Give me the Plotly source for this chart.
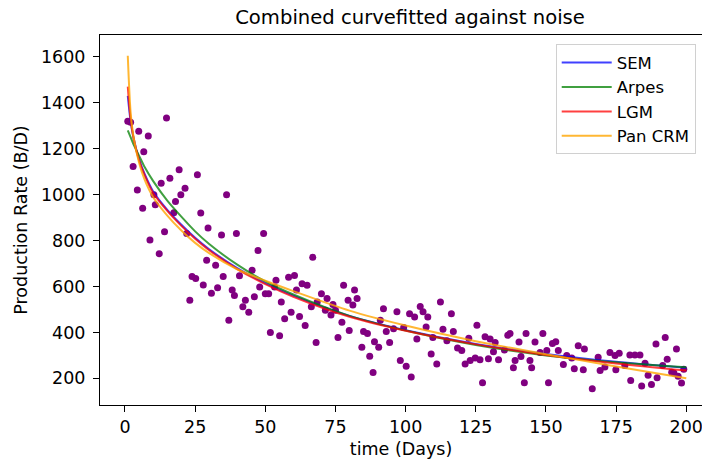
import plotly.graph_objects as go

# --- scatter data (noisy production) ---
days = [1.0, 2.0, 2.9, 4.4, 4.9, 6.3, 6.7, 8.3, 8.9, 10.3, 10.8, 12.2, 12.9, 14.1, 14.8, 16.0, 17.4, 18.0,
        19.3, 19.9, 21.4, 22.0, 23.1, 23.9, 25.2, 25.8, 27.0, 27.9, 29.1, 29.6, 30.8, 32.3, 33.0, 34.4, 35.0,
        36.2, 37.0, 38.2, 39.0, 39.7,
        40.8, 42.0, 42.9, 44.1, 45.3, 46.1, 47.4, 48.0, 49.4, 50.0, 51.2, 51.8, 53.3, 53.8, 55.1, 55.7, 56.9,
        58.3, 59.2, 60.4, 61.1, 62.2, 63.1, 64.2, 64.9, 66.4, 66.9, 68.1, 68.5, 70.0, 71.4, 72.0, 73.4, 74.1,
        75.0, 75.9, 77.3, 77.9, 79.5, 79.9, 81.2, 81.8, 82.7,
        84.4, 85.0, 86.4, 87.2, 88.4, 88.9, 90.4, 91.0, 92.1, 93.1, 94.3, 95.7, 96.9, 98.1, 99.3, 100.2, 101.4,
        102.0, 103.2, 104.0, 105.2, 106.2, 107.3, 107.9, 109.1, 109.7, 111.1, 112.4, 113.3, 114.7, 116.3, 117.0,
        118.5, 120.0, 121.2, 122.5, 123.0,
        124.8, 125.4, 126.5, 127.4, 128.3, 129.5, 130.1, 131.3, 131.9, 133.1, 135.2, 136.4, 137.2, 138.4, 139.0,
        140.4, 141.1, 142.3, 142.9, 144.3, 144.9, 146.1, 147.9, 148.9, 150.3, 150.9, 152.3, 153.5, 154.4, 156.2,
        157.4, 159.2, 160.1, 161.5, 163.3, 163.7, 166.5,
        168.6, 169.3, 171.0, 172.8, 174.6, 174.9, 176.1, 178.1, 179.9, 180.2, 181.7, 183.5, 184.1, 185.3, 186.4,
        187.6, 189.2, 189.6, 191.6, 192.5, 193.2, 194.8, 195.6, 196.5, 197.1, 198.3, 199.1]
rates = [1319, 1315, 1122, 1020, 1276, 941, 1187, 1255, 802, 999, 956, 743, 1050, 838, 1334, 1071, 921, 970,
         1108, 999, 1028, 831, 540, 643, 635, 1087, 920, 606, 714, 855, 571, 693, 594, 824, 643,
         999, 453, 585, 561, 831,
         647, 512, 540, 488, 671, 555, 757, 598, 831, 568, 568, 400, 598, 627, 385, 533, 459,
         640, 488, 648, 585, 469, 612, 430, 605, 512, 727, 356, 533, 568, 497, 548, 476, 522,
         497, 378, 444, 605, 540, 408, 519, 585, 548,
         335, 404, 395, 296, 226, 359, 335, 453, 503, 404, 356, 416, 490, 278, 421, 253, 481,
         206, 467, 371, 513, 490, 424, 467, 306, 378, 263, 532, 414, 364, 481, 404,
         332, 321, 263, 375, 278,
         289, 431, 281, 181, 381, 285, 371, 316, 356, 281, 324, 388, 395, 246, 278,
         358, 295, 181, 395, 278, 246, 358, 313, 395, 321, 181, 352, 359, 321, 260,
         299, 289, 242, 342, 237, 328, 155,
         292, 234, 249, 313, 299, 237, 309, 256, 302, 191, 302, 302, 167, 266, 213,
         173, 350, 203, 256, 378, 283, 227, 223, 328, 209, 180, 240]

# --- fitted curves ---
fit_days = [1, 2, 3, 5, 7, 10, 15, 20, 25, 30, 40, 50, 60, 80, 100, 125, 150, 175, 200]
sem = [1430, 1320, 1250, 1155, 1090, 1015, 935, 870, 812, 762, 680, 615, 560, 472, 410, 350, 306, 272, 246]
arps = [1280, 1250, 1220, 1170, 1120, 1060, 975, 905, 840, 785, 695, 622, 565, 472, 408, 345, 300, 270, 248]
lgm = [1470, 1330, 1250, 1150, 1085, 1008, 930, 865, 808, 758, 676, 610, 555, 468, 407, 348, 302, 265, 234]
pan = [1605, 1360, 1255, 1140, 1065, 990, 910, 845, 790, 745, 675, 625, 580, 495, 430, 362, 305, 252, 200]

names = ["SEM", "Arpes", "LGM", "Pan CRM"]
colors = ["rgba(0,0,255,0.75)", "rgba(0,128,0,0.75)", "rgba(255,0,0,0.75)", "rgba(255,165,0,0.8)"]
x_ticks = [0, 25, 50, 75, 100, 125, 150, 175, 200]
y_ticks = [200, 400, 600, 800, 1000, 1200, 1400, 1600]

FONT = "DejaVu Sans"
FS = 17.5

fig = go.Figure()
fig.add_trace(go.Scatter(x=days, y=rates, mode="markers", showlegend=False,
                         marker=dict(color="#800080", size=7, line=dict(width=0))))
for name, vals, col in zip(names, [sem, arps, lgm, pan], colors):
    fig.add_trace(go.Scatter(x=fit_days, y=vals, mode="lines", name=name,
                             line=dict(color=col, width=2, shape="spline", smoothing=0.8)))

fig.update_layout(
    width=702, height=462,
    margin=dict(l=100, r=0, t=35, b=57),
    paper_bgcolor="white", plot_bgcolor="white",
    font=dict(family=FONT, size=FS, color="black"),
    title=dict(text="Combined curvefitted against noise", x=0.515, xref="paper", xanchor="center",
               y=1, yref="container", yanchor="top", pad=dict(t=10),
               font=dict(family=FONT, size=19.6, color="black")),
    legend=dict(x=0.757, y=0.975, xanchor="left", yanchor="top", itemwidth=50,
                bgcolor="rgba(255,255,255,0.8)", bordercolor="#d0d0d0", borderwidth=1,
                font=dict(family=FONT, size=16.5, color="black"), tracegroupgap=0),
    xaxis=dict(range=[-8.9, 205.6], tickvals=x_ticks, ticks="outside", ticklen=6, tickcolor="black",
               showgrid=False, zeroline=False, showline=True, linecolor="black", linewidth=1, mirror=True,
               automargin=False, ticklabeloverflow="allow",
               title=dict(text="time (Days)", standoff=6, font=dict(size=FS)), tickfont=dict(size=FS)),
    yaxis=dict(range=[84, 1695], tickvals=y_ticks, ticks="outside", ticklen=6, tickcolor="black",
               showgrid=False, zeroline=False, showline=True, linecolor="black", linewidth=1,
               automargin=False, ticklabelstandoff=4,
               title=dict(text="Production Rate (B/D)", standoff=8, font=dict(size=FS)), tickfont=dict(size=FS)),
)

fig.write_html("out.html")
